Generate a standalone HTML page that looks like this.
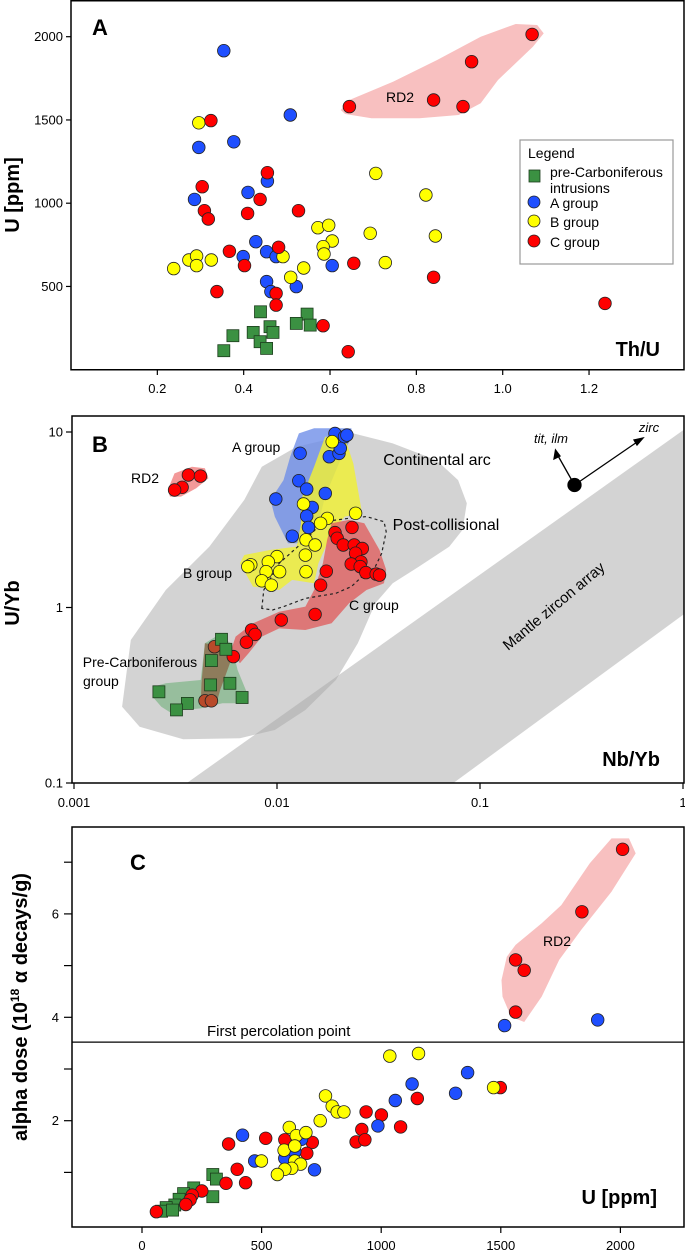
<!DOCTYPE html>
<html><head><meta charset="utf-8"><style>
html,body{margin:0;padding:0;background:#fff}
svg{display:block;font-family:"Liberation Sans",sans-serif}
</style></head><body>
<svg id="svg" width="685" height="1254" viewBox="0 0 685 1254" xmlns="http://www.w3.org/2000/svg">
<defs>
<clipPath id="clipB"><rect x="72" y="416" width="612" height="367"/></clipPath>
</defs>
<g id="gA"></g>
<g id="gB"></g>
<g id="gC"></g>
</svg>
<script>
// ---------- Panel A data: Th/U vs U ----------
const aTicksX=[0.2,0.4,0.6,0.8,1.0,1.2];
const aTickLabelsX=["0.2","0.4","0.6","0.8","1.0","1.2"];
const aTicksY=[500,1000,1500,2000];
const aBlueThU=[0.354,0.508,0.377,0.296,0.286,0.455,0.410,0.428,0.399,0.453,0.475,0.605,0.453,0.522,0.463];
const aBlueU=[1916,1530,1369,1335,1023,1133,1065,769,679,709,679,625,529,499,469];
const aYellowThU=[0.296,0.706,0.822,0.572,0.597,0.693,0.844,0.605,0.584,0.586,0.491,0.728,0.539,0.509,0.238,0.273,0.291,0.291,0.325];
const aYellowU=[1483,1179,1049,853,867,819,803,773,739,695,679,643,611,555,607,659,683,625,659];
const aRedThU=[1.068,0.928,0.645,0.840,0.908,0.324,0.304,0.455,0.438,0.309,0.318,0.409,0.527,0.367,0.481,0.402,0.655,0.840,0.338,0.475,0.475,0.584,0.642,1.237];
const aRedU=[2014,1850,1580,1620,1580,1496,1099,1183,1023,955,905,939,955,711,735,625,639,555,469,458,388,264,108,398];
const aGreenThU=[0.439,0.547,0.522,0.554,0.461,0.422,0.468,0.375,0.438,0.453,0.354];
const aGreenU=[348,334,278,268,258,224,224,204,168,128,114];
const aRD2ThU=[0.625,0.645,0.746,0.848,0.949,1.030,1.080,1.095,1.070,0.989,0.949,0.898,0.807,0.696,0.635];
const aRD2U=[1560,1620,1730,1860,2000,2076,2070,2020,1940,1740,1600,1530,1510,1510,1536];

// ---------- Panel B data: Nb/Yb vs U/Yb (log) ----------
const bTicksX=[0.001,0.01,0.1,1];
const bTickLabelsX=["0.001","0.01","0.1","1"];
const bTicksY=[0.1,1,10];
const bTickLabelsY=["0.1","1","10"];
const bBlueNb=[0.0193,0.0215,0.0221,0.0130,0.0181,0.0202,0.0205,0.0128,0.0140,0.0173,0.00986,0.0149,0.0140,0.0143,0.0119];
const bBlueU=[9.8,9.4,9.6,7.56,7.23,7.55,8.07,5.28,4.73,4.47,4.15,3.72,3.32,2.86,2.55];
const bYellowNb=[0.0187,0.0135,0.0177,0.0164,0.0244,0.0139,0.0154,0.0138,0.0139,0.0100,0.00906,0.00743,0.00718,0.00884,0.0103,0.00842,0.00937];
const bYellowU=[8.81,3.89,3.22,3.02,3.44,2.43,2.27,1.99,1.60,1.95,1.82,1.75,1.71,1.60,1.60,1.42,1.34];
const bRedNb=[0.0234,0.0193,0.0198,0.0212,0.0240,0.0263,0.0244,0.0259,0.0232,0.0257,0.0274,0.0308,0.0320,0.0175,0.0164,0.0154,0.0105,0.00750,0.00780,0.00707,0.00609,0.00366,0.00420,0.00341,0.00313];
const bRedU=[2.86,2.67,2.48,2.27,2.27,2.17,2.04,1.82,1.77,1.71,1.58,1.55,1.53,1.61,1.34,0.914,0.849,0.745,0.703,0.634,0.525,5.69,5.61,4.84,4.67];
const bBrownNb=[0.00492,0.00442,0.00475];
const bBrownU=[0.598,0.294,0.294];
const bGreenNb=[0.00533,0.00560,0.00475,0.00471,0.00586,0.00262,0.00673,0.00362,0.00320];
const bGreenU=[0.659,0.578,0.498,0.362,0.370,0.331,0.307,0.284,0.261];
// fields (log10 units)
const bArcLog=[[-2.763,-0.565],[-2.720,-0.185],[-2.548,0.100],[-2.333,0.347],[-2.161,0.613],[-2.075,0.802],[-1.903,0.916],[-1.624,0.992],[-1.430,0.935],[-1.215,0.840],[-1.108,0.726],[-1.065,0.594],[-1.086,0.442],[-1.151,0.347],[-1.301,0.233],[-1.430,0.138],[-1.516,0.024],[-1.602,-0.204],[-1.710,-0.413],[-1.860,-0.584],[-2.011,-0.698],[-2.183,-0.745],[-2.462,-0.751],[-2.677,-0.679]];
const bMantleLog=[[-2.505,-1.05],[0.05,1.05],[0.05,0.0],[-1.19,-1.05]];
const bBlueLog=[[-2.032,0.613],[-1.968,0.726],[-1.935,0.859],[-1.892,0.992],[-1.817,1.021],[-1.634,1.021],[-1.628,0.983],[-1.688,0.840],[-1.763,0.632],[-1.796,0.480],[-1.882,0.366],[-1.946,0.366],[-2.011,0.518]];
const bYellowLog=[[-1.763,0.973],[-1.667,0.973],[-1.624,0.821],[-1.581,0.537],[-1.667,0.518],[-1.731,0.423],[-1.796,0.252],[-1.817,0.138],[-1.925,0.157],[-1.989,0.100],[-2.118,0.119],[-2.183,0.252],[-2.161,0.299],[-2.032,0.328],[-1.903,0.347],[-1.882,0.480],[-1.882,0.613],[-1.817,0.802]];
const bRedLog=[[-1.731,0.480],[-1.645,0.499],[-1.570,0.480],[-1.495,0.328],[-1.462,0.214],[-1.473,0.138],[-1.559,0.100],[-1.645,0.024],[-1.731,-0.090],[-1.860,-0.128],[-1.989,-0.119],[-2.075,-0.166],[-2.140,-0.261],[-2.183,-0.318],[-2.226,-0.242],[-2.204,-0.166],[-2.118,-0.090],[-1.989,-0.024],[-1.860,0.005],[-1.817,0.100],[-1.774,0.252],[-1.753,0.385]];
const bGreenLog=[[-2.613,-0.451],[-2.548,-0.432],[-2.376,-0.413],[-2.355,-0.204],[-2.290,-0.157],[-2.226,-0.204],[-2.194,-0.356],[-2.140,-0.508],[-2.151,-0.546],[-2.269,-0.546],[-2.376,-0.575],[-2.462,-0.584],[-2.505,-0.613],[-2.570,-0.565],[-2.613,-0.508]];
const bBrownLog=[[-2.355,-0.204],[-2.247,-0.223],[-2.226,-0.299],[-2.280,-0.470],[-2.301,-0.556],[-2.376,-0.556],[-2.372,-0.432]];
const bRD2Log=[[-2.538,0.670],[-2.505,0.764],[-2.419,0.802],[-2.355,0.793],[-2.338,0.736],[-2.398,0.679],[-2.473,0.632],[-2.527,0.632]];
const bPostLog=[[-2.075,-0.005],[-2.065,0.100],[-1.989,0.252],[-1.860,0.385],[-1.774,0.489],[-1.645,0.508],[-1.559,0.518],[-1.473,0.489],[-1.462,0.432],[-1.484,0.309],[-1.516,0.233],[-1.581,0.176],[-1.634,0.119],[-1.710,0.081],[-1.860,0.052],[-1.968,0.005],[-2.022,-0.014]];

// ---------- Panel C data: U vs alpha dose ----------
const cTicksX=[0,500,1000,1500,2000];
const cTicksY=[1,2,3,4,5,6,7];
const cTickLabelsY=["","2","","4","","6",""];
const cPercolation=3.52;
const cRedU=[2009,1839,1562,1598,1562,1498,1151,937,1001,1081,919,895,932,712,689,597,517,362,398,351,433,250,210,201,183,60];
const cRedDose=[7.25,6.04,5.11,4.91,4.10,2.64,2.43,2.17,2.11,1.88,1.83,1.59,1.63,1.58,1.37,1.63,1.66,1.55,1.06,0.79,0.80,0.64,0.56,0.47,0.38,0.24];
const cBlueU=[1516,1905,1361,1129,1311,1059,986,420,471,597,639,667,721];
const cBlueDose=[3.84,3.95,2.93,2.71,2.53,2.39,1.90,1.72,1.22,1.27,1.40,1.64,1.05];
const cYellowU=[1036,1156,1470,767,795,816,844,745,616,645,685,594,639,499,639,663,626,597,566];
const cYellowDose=[3.25,3.30,2.64,2.48,2.28,2.17,2.17,2.00,1.87,1.71,1.77,1.43,1.51,1.22,1.22,1.16,1.08,1.06,0.96];
const cGreenU=[296,311,296,216,174,155,137,101,82,128];
const cGreenDose=[0.96,0.87,0.53,0.70,0.59,0.48,0.37,0.32,0.25,0.27];
const cRD2U=[1525,1562,1671,1753,1872,1963,2036,2064,1963,1836,1744,1671,1598,1543,1507,1503];
const cRD2Dose=[5.17,5.40,5.82,6.17,6.98,7.46,7.46,7.17,6.43,5.69,5.11,4.40,3.91,4.01,4.40,4.72];

const NS="http://www.w3.org/2000/svg";
function mk(parent,tag,attrs,text){const e=document.createElementNS(NS,tag);for(const k in attrs)e.setAttribute(k,attrs[k]);if(text!==undefined)e.textContent=text;parent.appendChild(e);return e;}
const COL={red:"#ff0000",blue:"#1f4fff",yellow:"#ffff00",green:"#3b9142"};

const axA={x:v=>71+431.7*v,y:v=>36.7+(2000-v)*0.1665};
const axB={x:v=>74+203*(Math.log10(v)+3),y:v=>432+175.5*(1-Math.log10(v)),lx:l=>74+203*(l+3),ly:l=>432+175.5*(1-l)};
const axC={x:v=>142+0.2392*v,y:v=>1120.7-(v-2)*51.7};

function frame(g,x,y,w,h){const r=mk(g,"rect",{x:x,y:y,width:w,height:h,fill:"none",stroke:"#000","stroke-width":1.5});}
function circles(g,xs,ys,ax,color,name){xs.forEach((v,i)=>{const c=mk(g,"circle",{cx:ax.x(v).toFixed(1),cy:ax.y(ys[i]).toFixed(1),r:6.3,fill:color,stroke:"#222","stroke-width":0.8});

});}
function squares(g,xs,ys,ax,name){xs.forEach((v,i)=>{const s=mk(g,"rect",{x:(ax.x(v)-6).toFixed(1),y:(ax.y(ys[i])-6).toFixed(1),width:12,height:12,fill:COL.green,stroke:"#1d3d1d","stroke-width":0.8});

});}
function poly(g,pts,attrs,name){const p=mk(g,"polygon",Object.assign({points:pts.map(p=>p[0].toFixed(1)+","+p[1].toFixed(1)).join(" ")},attrs));return p;}
function txt(g,x,y,s,attrs,name){const t=mk(g,"text",Object.assign({x:x,y:y},attrs),s);return t;}

// ===== Panel A =====
(function(){
const g=document.getElementById('gA');
poly(g,aRD2ThU.map((v,i)=>[axA.x(v),axA.y(aRD2U[i])]),{fill:"#f8c0c0"},'rd2-field');
aTicksX.forEach((v,i)=>{const x=axA.x(v);const l=mk(g,"line",{x1:x,x2:x,y1:369.7,y2:375,stroke:"#000","stroke-width":1.2});
txt(g,x,393,aTickLabelsX[i],{"font-size":13,"text-anchor":"middle"},'x-tick-label');});
aTicksY.forEach(v=>{const y=axA.y(v);const l=mk(g,"line",{x1:66,x2:71,y1:y,y2:y,stroke:"#000","stroke-width":1.2});
txt(g,63,y+4.5,String(v),{"font-size":13,"text-anchor":"end"},'y-tick-label');});
circles(g,aBlueThU,aBlueU,axA,COL.blue,'a-group-point');
circles(g,aYellowThU,aYellowU,axA,COL.yellow,'b-group-point');
circles(g,aRedThU,aRedU,axA,COL.red,'c-group-point');
squares(g,aGreenThU,aGreenU,axA,'pre-carboniferous-point');
frame(g,71,0.75,613,369);
txt(g,92,35,"A",{"font-size":22,"font-weight":"bold"},'panel-label-a');
txt(g,386,102,"RD2",{"font-size":14},'rd2-label');
txt(g,660,356,"Th/U",{"font-size":20,"font-weight":"bold","text-anchor":"end"},'x-axis-title');
txt(g,0,0,"U [ppm]",{"font-size":20,"font-weight":"bold","text-anchor":"middle",transform:"translate(19,195) rotate(-90)"},'y-axis-title');
const lg=mk(g,"g",{});
mk(lg,"rect",{x:520,y:140,width:153,height:124,fill:"#fff",stroke:"#999","stroke-width":1.2});
txt(lg,528,158,"Legend",{"font-size":14},'legend-title');
mk(lg,"rect",{x:529,y:170,width:11,height:12,fill:COL.green,stroke:"#1d3d1d","stroke-width":0.8});
txt(lg,550,177,"pre-Carboniferous",{"font-size":14},'legend-entry');
txt(lg,550,193,"intrusions",{"font-size":14},'legend-entry');
[[207,COL.blue,"A group"],[226,COL.yellow,"B group"],[246,COL.red,"C group"]].forEach(e=>{mk(lg,"circle",{cx:534,cy:e[0]-5,r:6,fill:e[1],stroke:"#222","stroke-width":0.8});txt(lg,550,e[0]+1,e[2],{"font-size":14},'legend-entry');});
})();

// ===== Panel B =====
(function(){
const g=document.getElementById('gB');
const fg=mk(g,"g",{"clip-path":"url(#clipB)"});
const L=arr=>arr.map(p=>[axB.lx(p[0]),axB.ly(p[1])]);
poly(fg,L(bArcLog),{fill:"#a8a8a8","fill-opacity":0.5},'continental-arc-field');
poly(fg,L(bMantleLog),{fill:"#a8a8a8","fill-opacity":0.5},'mantle-zircon-array');
poly(fg,L(bBlueLog),{fill:"#6f8fe8","fill-opacity":0.8},'a-group-field');
poly(fg,L(bYellowLog),{fill:"#eeee3a","fill-opacity":0.85},'b-group-field');
poly(fg,L(bRedLog),{fill:"#e06060","fill-opacity":0.8},'c-group-field');
poly(fg,L(bGreenLog),{fill:"#6fb07a","fill-opacity":0.6},'pre-carboniferous-field');
poly(fg,L(bBrownLog),{fill:"#8a6040","fill-opacity":0.7},'overlap-field');
poly(fg,L(bRD2Log),{fill:"#f08080","fill-opacity":0.8},'rd2-field');
poly(fg,L(bPostLog),{fill:"none",stroke:"#222","stroke-width":1.2,"stroke-dasharray":"3,3"},'post-collisional-outline');
bTicksX.forEach((v,i)=>{const x=axB.x(v);const l=mk(g,"line",{x1:x,x2:x,y1:783,y2:789,stroke:"#000","stroke-width":1.2});
txt(g,x,807,bTickLabelsX[i],{"font-size":13,"text-anchor":"middle"},'x-tick-label');});
bTicksY.forEach((v,i)=>{const y=axB.y(v);const l=mk(g,"line",{x1:66,x2:72,y1:y,y2:y,stroke:"#000","stroke-width":1.2});
txt(g,63,y+4.5,bTickLabelsY[i],{"font-size":13,"text-anchor":"end"},'y-tick-label');});
circles(g,bBlueNb,bBlueU,axB,COL.blue,'a-group-point');
circles(g,bYellowNb,bYellowU,axB,COL.yellow,'b-group-point');
circles(g,bRedNb,bRedU,axB,COL.red,'c-group-point');
circles(g,bBrownNb,bBrownU,axB,"#b84a2a",'c-group-point');
squares(g,bGreenNb,bGreenU,axB,'pre-carboniferous-point');
frame(g,72,416,612,367);
txt(g,92,452,"B",{"font-size":22,"font-weight":"bold"},'panel-label-b');
txt(g,232,452,"A group",{"font-size":14},'a-group-label');
txt(g,131,483,"RD2",{"font-size":14},'rd2-label');
txt(g,437,465,"Continental arc",{"font-size":16,"text-anchor":"middle"},'continental-arc-label');
txt(g,446,530,"Post-collisional",{"font-size":16,"text-anchor":"middle"},'post-collisional-label');
txt(g,183,578,"B group",{"font-size":14},'b-group-label');
txt(g,349,610,"C group",{"font-size":14},'c-group-label');
txt(g,140,667,"Pre-Carboniferous",{"font-size":14,"text-anchor":"middle"},'pre-carboniferous-label');
txt(g,83,686,"group",{"font-size":14},'pre-carboniferous-label');
txt(g,0,0,"Mantle zircon array",{"font-size":15,"text-anchor":"middle",transform:"translate(557,610) rotate(-40)"},'mantle-zircon-label');
txt(g,660,766,"Nb/Yb",{"font-size":20,"font-weight":"bold","text-anchor":"end"},'x-axis-title');
txt(g,0,0,"U/Yb",{"font-size":20,"font-weight":"bold","text-anchor":"middle",transform:"translate(19,603) rotate(-90)"},'y-axis-title');
txt(g,551,443,"tit, ilm",{"font-size":13,"font-style":"italic","text-anchor":"middle"},'tit-ilm-label');
txt(g,649,432,"zirc",{"font-size":13,"font-style":"italic","text-anchor":"middle"},'zirc-label');
const vg=mk(g,"g",{stroke:"#000","stroke-width":1.3,fill:"#000"});
mk(vg,"line",{x1:574.5,y1:485,x2:557,y2:454});
mk(vg,"polygon",{points:"555.5,450 554,459 560,456"});
mk(vg,"line",{x1:574.5,y1:485,x2:640,y2:440});
mk(vg,"polygon",{points:"643,438 634,440 637,445"});
mk(vg,"circle",{cx:574.5,cy:485,r:6.5});
})();

// ===== Panel C =====
(function(){
const g=document.getElementById('gC');
poly(g,cRD2U.map((v,i)=>[axC.x(v),axC.y(cRD2Dose[i])]),{fill:"#f8c0c0"},'rd2-field');
const py=axC.y(cPercolation);
const pl=mk(g,"line",{x1:72,x2:684,y1:py,y2:py,stroke:"#000","stroke-width":1.2});

txt(g,207,py-6,"First percolation point",{"font-size":15},'percolation-label');
cTicksX.forEach(v=>{const x=axC.x(v);const l=mk(g,"line",{x1:x,x2:x,y1:1227,y2:1233,stroke:"#000","stroke-width":1.2});
txt(g,x,1250,String(v),{"font-size":13,"text-anchor":"middle"},'x-tick-label');});
cTicksY.forEach((v,i)=>{const y=axC.y(v);const l=mk(g,"line",{x1:64,x2:72,y1:y,y2:y,stroke:"#000","stroke-width":1.2});
if(cTickLabelsY[i])txt(g,59,y+4.5,cTickLabelsY[i],{"font-size":13,"text-anchor":"end"},'y-tick-label');});
squares(g,cGreenU,cGreenDose,axC,'pre-carboniferous-point');
circles(g,cRedU,cRedDose,axC,COL.red,'c-group-point');
circles(g,cBlueU,cBlueDose,axC,COL.blue,'a-group-point');
circles(g,cYellowU,cYellowDose,axC,COL.yellow,'b-group-point');
frame(g,72,827,612,400);
txt(g,130,870,"C",{"font-size":22,"font-weight":"bold"},'panel-label-c');
txt(g,543,946,"RD2",{"font-size":14},'rd2-label');
txt(g,657,1204,"U [ppm]",{"font-size":20,"font-weight":"bold","text-anchor":"end"},'x-axis-title');
const yt=txt(g,0,0,"",{"font-size":20,"font-weight":"bold","text-anchor":"middle",transform:"translate(27,1007) rotate(-90)"},'y-axis-title');
yt.innerHTML='alpha dose (10<tspan font-size="12" dy="-8">18</tspan><tspan dy="8"> α decays/g)</tspan>';
})();
</script>
</body></html>
